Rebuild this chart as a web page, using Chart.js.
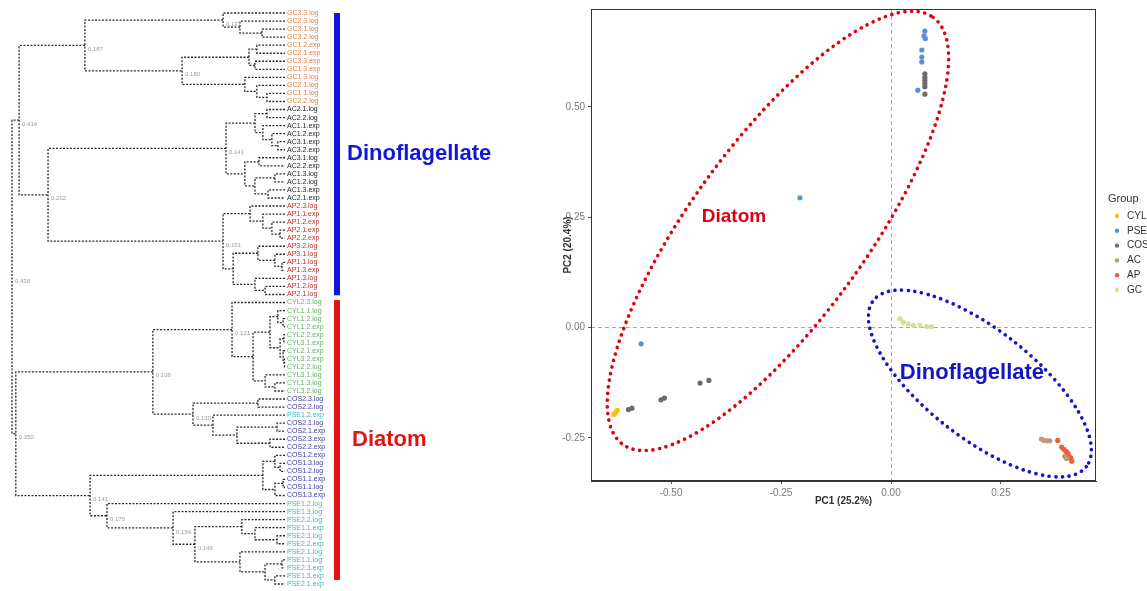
<!DOCTYPE html>
<html>
<head>
<meta charset="utf-8">
<script src="https://cdn.jsdelivr.net/npm/chart.js@4.4.0/dist/chart.umd.min.js"></script>
<style>
body { margin: 0; background: #fff; width: 1147px; height: 591px; overflow: hidden; }
#tree { position: absolute; left: 0; top: 0; }
#pca { position: absolute; left: 553px; top: 0; }
</style>
</head>
<body>
<canvas id="tree" width="553" height="591"></canvas>
<canvas id="pca" width="594" height="591"></canvas>
<script>
// ---------- dendrogram (left) ----------
// leaves in display order, top to bottom
var leafLabels = [
  'GC3.3.log', 'GC2.3.log', 'GC3.1.log', 'GC3.2.log', 'GC1.2.exp', 'GC2.1.exp', 'GC3.3.exp', 'GC1.3.exp', 'GC1.3.log', 'GC2.1.log', 'GC1.1.log', 'GC2.2.log',
  'AC2.1.log', 'AC2.2.log', 'AC1.1.exp', 'AC1.2.exp', 'AC3.1.exp', 'AC3.2.exp', 'AC3.1.log', 'AC2.2.exp', 'AC1.3.log', 'AC1.2.log', 'AC1.3.exp', 'AC2.1.exp',
  'AP2.3.log', 'AP1.1.exp', 'AP1.2.exp', 'AP2.1.exp', 'AP2.2.exp', 'AP3.2.log', 'AP3.1.log', 'AP1.1.log', 'AP1.3.exp', 'AP1.3.log', 'AP1.2.log', 'AP2.1.log',
  'CYL2.3.log', 'CYL1.1.log', 'CYL1.2.log', 'CYL1.2.exp', 'CYL2.2.exp', 'CYL3.1.exp', 'CYL2.1.exp', 'CYL3.2.exp', 'CYL2.2.log', 'CYL3.1.log', 'CYL1.3.log', 'CYL3.2.log',
  'COS2.3.log', 'COS2.2.log', 'PSE1.2.exp', 'COS2.1.log', 'COS2.1.exp', 'COS2.3.exp', 'COS2.2.exp', 'COS1.2.exp', 'COS1.3.log', 'COS1.2.log', 'COS1.1.exp', 'COS1.1.log', 'COS1.3.exp',
  'PSE1.2.log', 'PSE1.3.log', 'PSE2.2.log', 'PSE1.1.exp', 'PSE2.3.log', 'PSE2.2.exp', 'PSE2.1.log', 'PSE1.1.log', 'PSE2.3.exp', 'PSE1.3.exp', 'PSE2.1.exp'
];

// hclust style merges: negative = leaf (1-based), positive = earlier merge (1-based)
var mergeA = [
  -3, -2, -1, -5, -7, 4, -11, -10, -9, 6, 3,
  -13, -17, -16, -15, 12, -19, -21, -23, 18, 17, 16,
  -28, -27, -26, -25, -32, -31, -30, -35, -34, 29, 26, 22, 11,
  -39, -38, -41, -44, -43, 38, 37, -47, -46, 42, -37,
  -49, -52, -54, 48, -51, 47, 46,
  -57, -56, -59, 56, 55,
  -66, -65, -64, -69, -71, 62, -68, 61, -63, -62, 58, 53, 35
];
var mergeB = [
  -4, 1, 2, -6, -8, 5, -12, 7, 8, 9, 10,
  -14, -18, 13, 14, 15, -20, -22, -24, 19, 20, 21,
  -29, 23, 24, 25, -33, 27, 28, -36, 30, 31, 32, 33, 34,
  -40, 36, -42, -45, 39, 40, 41, -48, 43, 44, 45,
  -50, -53, -55, 49, 50, 51, 52,
  -58, 54, -60, -61, 57,
  -67, 59, 60, -70, -72, 63, 64, 65, 66, 67, 68, 69, 70
];
var mergeHeight = [
  0.084, 0.165, 0.227, 0.103, 0.110, 0.132, 0.066, 0.103, 0.147, 0.377, 0.733,
  0.066, 0.026, 0.048, 0.081, 0.110, 0.095, 0.037, 0.062, 0.110, 0.147, 0.216,
  0.018, 0.048, 0.081, 0.128, 0.011, 0.037, 0.099, 0.073, 0.110, 0.190, 0.227, 0.868, 0.974,
  0.007, 0.026, 0.004, 0.002, 0.007, 0.018, 0.055, 0.037, 0.073, 0.117, 0.194,
  0.099, 0.029, 0.055, 0.176, 0.264, 0.337, 0.484,
  0.018, 0.037, 0.007, 0.037, 0.081,
  0.029, 0.110, 0.158, 0.011, 0.037, 0.073, 0.165, 0.330, 0.410, 0.652, 0.714, 0.986, 1.000
];

// small grey node values
var noteMerge = [71, 70, 35, 11, 34, 10, 3, 22, 33, 53, 46, 52, 69, 68, 67, 66];
var noteText = ['0.438', '0.350', '0.414', '0.187', '0.202', '0.180', '0.131', '0.141', '0.151', '0.139', '0.121', '0.130', '0.141', '0.175', '0.154', '0.146'];

// clade bars, in leaf index units
var cladeNames = ['Dinoflagellate', 'Diatom'];
var cladeFrom = [0.0, 35.7];
var cladeTo = [35.1, 70.5];

// ---------- PCA (right) ----------
var groups = ['CYL', 'PSE', 'COS', 'AC', 'AP', 'GC'];
var cylX = [-0.630, -0.627, -0.624, -0.622];
var cylY = [-0.197, -0.194, -0.190, -0.188];
var pseX = [0.077, 0.075, 0.078, 0.070, 0.070, 0.070, 0.061, -0.207, -0.568];
var pseY = [0.672, 0.661, 0.655, 0.629, 0.613, 0.602, 0.538, 0.294, -0.037];
var cosX = [0.077, 0.077, 0.077, 0.077, 0.077, 0.077, -0.434, -0.414, -0.523, -0.515, -0.597, -0.589];
var cosY = [0.575, 0.567, 0.560, 0.553, 0.546, 0.529, -0.126, -0.120, -0.164, -0.160, -0.186, -0.183];
var acX = [0.342, 0.348, 0.355, 0.361, 0.395, 0.399];
var acY = [-0.253, -0.256, -0.257, -0.257, -0.292, -0.297];
var apX = [0.379, 0.388, 0.393, 0.398, 0.402, 0.405, 0.409, 0.411];
var apY = [-0.256, -0.271, -0.276, -0.281, -0.285, -0.292, -0.296, -0.303];
var gcX = [0.020, 0.028, 0.039, 0.051, 0.066, 0.081, 0.092];
var gcY = [0.020, 0.012, 0.008, 0.005, 0.005, 0.002, 0.002];
var xTicks = [-0.5, -0.25, 0, 0.25];
var yTicks = [-0.25, 0, 0.25, 0.5];

// dotted ellipses round the two clusters (data units, angle in degrees)
var ellipseNames = ['Diatom', 'Dinoflagellate'];
var ellipseCX = [-0.257, 0.202];
var ellipseCY = [0.219, -0.127];
var ellipseA = [0.600, 0.307];
var ellipseB = [0.200, 0.123];
var ellipseAngle = [54, -38];
var ellipseLabelX = [-0.357, 0.184];
var ellipseLabelY = [0.251, -0.102];

var fam = "'Liberation Sans', Arial, sans-serif";
Chart.defaults.font.family = fam;

var leafColor = { GC: '#d8824a', AC: '#1a1a1a', AP: '#b8302e', CYL: '#62b562', COS: '#3a3aa0', PSE: '#3cb8bc' };
var groupColor = { CYL: '#f2c418', PSE: '#5b8ed8', COS: '#6b6b6b', AC: '#c09a78', AP: '#ef5d3b', GC: '#d5e09b' };
var cladeColor = ['#1414e0', '#e01414'];
var labelColor = ['#e00010', '#1414c8'];
var labelSize = [19, 22];

function prefix(l) { return l.match(/^[A-Z]+/)[0]; }

// build tree polylines
var nodeY = [];
function pos(ref) {
  return ref < 0 ? { x: 0, y: -ref - 1 } : { x: mergeHeight[ref - 1], y: nodeY[ref - 1] };
}
var treePts = [];
for (var m = 0; m < mergeA.length; m++) {
  var a = pos(mergeA[m]), b = pos(mergeB[m]), h = mergeHeight[m];
  nodeY[m] = (a.y + b.y) / 2;
  treePts.push({ x: a.x, y: a.y }, { x: h, y: a.y }, { x: h, y: b.y }, { x: b.x, y: b.y }, { x: h, y: null });
}

var treeDecor = {
  id: 'treeDecor',
  afterDraw: function (chart) {
    var ctx = chart.ctx, xs = chart.scales.x, ys = chart.scales.y;
    ctx.save();
    ctx.textAlign = 'left';
    ctx.textBaseline = 'middle';
    ctx.font = '7px ' + fam;
    leafLabels.forEach(function (lab, i) {
      ctx.fillStyle = leafColor[prefix(lab)];
      ctx.fillText(lab, xs.getPixelForValue(0) + 2, ys.getPixelForValue(i));
    });
    ctx.font = '6px ' + fam;
    ctx.fillStyle = '#9a9a9a';
    noteMerge.forEach(function (mi, k) {
      ctx.fillText(noteText[k], xs.getPixelForValue(mergeHeight[mi - 1]) + 3, ys.getPixelForValue(nodeY[mi - 1]) + 4);
    });
    var textX = [347, 352];
    cladeNames.forEach(function (name, k) {
      var y0 = ys.getPixelForValue(cladeFrom[k]), y1 = ys.getPixelForValue(cladeTo[k]);
      ctx.fillStyle = cladeColor[k];
      ctx.fillRect(334, y0, 6, y1 - y0);
      ctx.font = 'bold 22px ' + fam;
      ctx.fillText(name, textX[k], (y0 + y1) / 2);
    });
    ctx.restore();
  }
};

new Chart(document.getElementById('tree'), {
  type: 'scatter',
  data: {
    datasets: [{
      data: treePts,
      showLine: true,
      spanGaps: false,
      pointRadius: 0,
      borderColor: '#2a2a2a',
      borderWidth: 1.3,
      borderDash: [2, 1.5],
      clip: false
    }]
  },
  options: {
    responsive: false,
    animation: false,
    devicePixelRatio: 1,
    layout: { padding: { left: 12, right: 268, top: 9, bottom: 3 } },
    plugins: { legend: { display: false }, tooltip: { enabled: false } },
    scales: {
      x: { type: 'linear', min: 0, max: 1, reverse: true, display: false },
      y: { type: 'linear', min: -0.5, max: 71.5, reverse: true, display: false }
    }
  },
  plugins: [treeDecor]
});

// ---------- PCA chart ----------
function zip(xs, ys) { return xs.map(function (v, i) { return { x: v, y: ys[i] }; }); }
var seriesX = [cylX, pseX, cosX, acX, apX, gcX];
var seriesY = [cylY, pseY, cosY, acY, apY, gcY];

var pcaDecor = {
  id: 'pcaDecor',
  beforeDatasetsDraw: function (chart) {
    var ctx = chart.ctx, xs = chart.scales.x, ys = chart.scales.y, ca = chart.chartArea;
    ctx.save();
    ctx.strokeStyle = '#a8a8a8';
    ctx.lineWidth = 1;
    ctx.setLineDash([4, 3]);
    var x0 = Math.round(xs.getPixelForValue(0)) + 0.5, y0 = Math.round(ys.getPixelForValue(0)) + 0.5;
    ctx.beginPath();
    ctx.moveTo(x0, ca.top); ctx.lineTo(x0, ca.bottom);
    ctx.moveTo(ca.left, y0); ctx.lineTo(ca.right, y0);
    ctx.stroke();
    ctx.restore();
  },
  afterDatasetsDraw: function (chart) {
    var ctx = chart.ctx, xs = chart.scales.x, ys = chart.scales.y, ca = chart.chartArea;
    var unit = xs.getPixelForValue(1) - xs.getPixelForValue(0);
    ctx.save();
    ctx.strokeStyle = '#333';
    ctx.lineWidth = 1;
    ctx.strokeRect(ca.left + 0.5, ca.top + 0.5, ca.right - ca.left - 1, ca.bottom - ca.top - 1);
    ellipseNames.forEach(function (name, k) {
      ctx.beginPath();
      ctx.ellipse(xs.getPixelForValue(ellipseCX[k]), ys.getPixelForValue(ellipseCY[k]),
        ellipseA[k] * unit, ellipseB[k] * unit, -ellipseAngle[k] * Math.PI / 180, 0, Math.PI * 2);
      ctx.strokeStyle = labelColor[k];
      ctx.lineWidth = 3.6;
      ctx.lineCap = 'round';
      ctx.setLineDash([0.1, 6.6]);
      ctx.stroke();
      ctx.setLineDash([]);
      ctx.fillStyle = labelColor[k];
      ctx.font = 'bold ' + labelSize[k] + 'px ' + fam;
      ctx.textAlign = 'center';
      ctx.textBaseline = 'middle';
      ctx.fillText(name, xs.getPixelForValue(ellipseLabelX[k]), ys.getPixelForValue(ellipseLabelY[k]));
    });
    // legend
    ctx.textAlign = 'left';
    ctx.textBaseline = 'middle';
    ctx.fillStyle = '#333';
    ctx.font = '11px ' + fam;
    ctx.fillText('Group', 555, 199);
    ctx.font = '10px ' + fam;
    groups.forEach(function (g, i) {
      var y = 216 + i * 14.8;
      ctx.fillStyle = groupColor[g];
      ctx.beginPath();
      ctx.arc(564, y, 2.2, 0, Math.PI * 2);
      ctx.fill();
      ctx.fillStyle = '#333';
      ctx.fillText(g, 574, y);
    });
    ctx.restore();
  }
};

new Chart(document.getElementById('pca'), {
  type: 'scatter',
  data: {
    datasets: groups.map(function (g, i) {
      return {
        label: g,
        data: zip(seriesX[i], seriesY[i]),
        backgroundColor: groupColor[g],
        borderWidth: 0,
        pointRadius: 2.6,
        pointHoverRadius: 2.6
      };
    })
  },
  options: {
    responsive: false,
    animation: false,
    devicePixelRatio: 1,
    layout: { padding: { left: 9, right: 51, top: 8, bottom: 80 } },
    plugins: { legend: { display: false }, tooltip: { enabled: false } },
    scales: {
      x: {
        type: 'linear', min: -0.682, max: 0.466,
        afterBuildTicks: function (s) { s.ticks = xTicks.map(function (v) { return { value: v }; }); },
        afterFit: function (s) { s.height = 30; },
        ticks: { color: '#7a7a7a', font: { size: 10 }, padding: 3, callback: function (v) { return v.toFixed(2); } },
        grid: { drawOnChartArea: false, tickLength: 3, color: '#555' },
        border: { color: '#333', width: 1 },
        title: { display: true, text: 'PC1 (25.2%)', color: '#333', font: { size: 10, weight: 'bold' }, padding: { top: 2, bottom: 4 } }
      },
      y: {
        type: 'linear', min: -0.348, max: 0.722,
        afterBuildTicks: function (s) { s.ticks = yTicks.map(function (v) { return { value: v }; }); },
        afterFit: function (s) { s.width = 29; },
        ticks: { color: '#7a7a7a', font: { size: 10 }, padding: 3, callback: function (v) { return v.toFixed(2); } },
        grid: { drawOnChartArea: false, tickLength: 3, color: '#555' },
        border: { color: '#333', width: 1 },
        title: { display: true, text: 'PC2 (20.4%)', color: '#333', font: { size: 10, weight: 'bold' }, padding: { top: 0, bottom: 4 } }
      }
    }
  },
  plugins: [pcaDecor]
});
</script>
</body>
</html>
